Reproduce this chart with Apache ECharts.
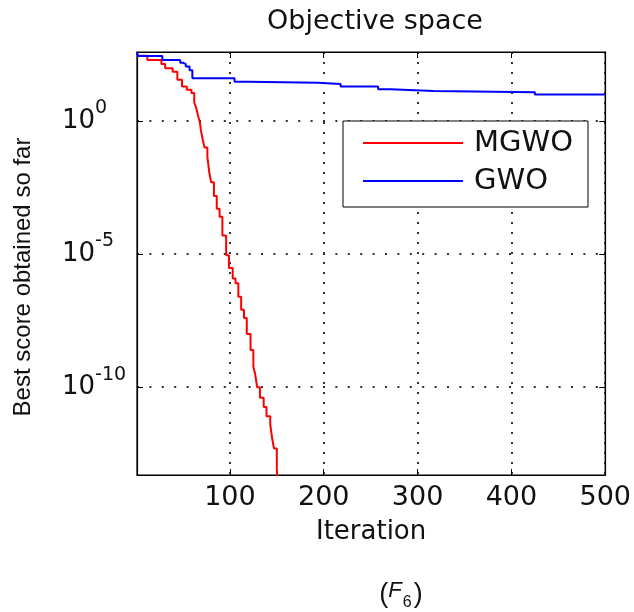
<!DOCTYPE html>
<html>
<head>
<meta charset="utf-8">
<script src="https://cdn.jsdelivr.net/npm/echarts@6/dist/echarts.min.js"></script>
<style>
html,body{margin:0;padding:0;background:#fff;}
#chart{width:634px;height:612px;}
</style>
</head>
<body>
<div id="chart"></div>
<script>
// ---- data ----
const xTickValues = [100, 200, 300, 400, 500];
const yTickValues = [1e-10, 1e-5, 1];

const mgwoIter = [1, 12, 27, 31, 39, 44, 49, 54, 59, 62, 64, 66, 68, 69, 71, 73, 76, 78, 80, 83, 86, 89, 92, 96, 99, 103, 106, 109, 112, 115, 118, 122, 125, 127, 129, 132, 136, 139, 143, 145, 147, 150, 152];
const mgwoVal  = [280, 196, 138, 96, 71, 35, 19.5, 14.7, 11.3, 5, 3.2, 1.6, 0.9, 0.46, 0.2, 0.1, 0.045, 0.012, 0.005, 0.0015, 5e-4, 2.5e-4, 5e-5, 9e-6, 3e-6, 1.2e-6, 8e-7, 2.5e-7, 8e-8, 4e-8, 1e-8, 2.5e-9, 6e-10, 3e-10, 1e-10, 4e-11, 1.8e-11, 8e-12, 4e-12, 1.2e-12, 5e-13, 8e-14, 1e-14];

const gwoIter = [1, 2, 28, 47, 50, 53, 57, 60, 105, 120, 194, 218, 258, 271, 317, 425, 500];
const gwoVal  = [383, 277, 196, 155, 135, 110, 80, 40, 30, 27.5, 24.5, 19.5, 15.5, 13.4, 12, 9.9, 9.9];

const seriesNames = ['MGWO', 'GWO'];
const xMin = 1, xMax = 500;
const yMin = Math.pow(10, -13.3), yMax = Math.pow(10, 2.59);

// ---- build ----
const zip = (a, b) => a.map((v, i) => [v, b[i]]);
const FONT = 'DejaVu Sans';
const tickCfg = { show: true, inside: true, length: 6, lineStyle: { color: '#000', width: 1 } };

const chart = echarts.init(document.getElementById('chart'), null, { renderer: 'canvas' });
chart.setOption({
  animation: false,
  backgroundColor: '#fff',
  title: {
    text: 'Objective space',
    left: 370, top: 3, textAlign: 'center',
    textStyle: { fontFamily: FONT, fontSize: 27, fontWeight: 'normal', color: '#111' }
  },
  grid: { left: 137, top: 52, right: 25, bottom: 137, show: true, borderColor: '#000', borderWidth: 1.2, backgroundColor: '#fff' },
  legend: {
    orient: 'vertical', left: 343, top: 121,
    data: seriesNames,
    itemWidth: 100, itemHeight: 14, itemGap: 8,
    itemStyle: { opacity: 0 },
    padding: [7, 15, 11, 19],
    backgroundColor: '#fff', borderColor: '#000', borderWidth: 1, borderRadius: 0,
    textStyle: { fontFamily: FONT, fontSize: 29, lineHeight: 30, color: '#111', padding: [0, 0, 0, 6] }
  },
  xAxis: [{
    type: 'value', min: xMin, max: xMax, position: 'bottom',
    name: 'Iteration', nameLocation: 'middle', nameGap: 44,
    nameTextStyle: { fontFamily: FONT, fontSize: 26, color: '#111', lineHeight: 26 },
    axisLine: { show: true, onZero: false, lineStyle: { color: '#000', width: 1.2 } },
    axisTick: Object.assign({ customValues: xTickValues }, tickCfg),
    axisLabel: { customValues: xTickValues, fontFamily: FONT, fontSize: 27, lineHeight: 27, color: '#111', margin: 9, showMinLabel: true, showMaxLabel: true },
    splitLine: { show: true, lineStyle: { color: '#333', width: 2, type: [2, 8] } }
  }, {
    type: 'value', min: xMin, max: xMax, position: 'top',
    axisLine: { show: true, onZero: false, lineStyle: { color: '#000', width: 1.2 } },
    axisTick: Object.assign({ customValues: xTickValues }, tickCfg),
    axisLabel: { show: false },
    splitLine: { show: false }
  }],
  yAxis: [{
    type: 'log', min: yMin, max: yMax, position: 'left',
    axisLine: { show: true, onZero: false, lineStyle: { color: '#000', width: 1.2 } },
    axisTick: Object.assign({ customValues: yTickValues }, tickCfg),
    minorTick: { show: false },
    axisLabel: {
      customValues: yTickValues,
      align: 'left', margin: 75,
      formatter: function (v) { return '{b|10}{s|' + Math.round(Math.log10(v)) + '}'; },
      rich: {
        b: { fontFamily: FONT, fontSize: 26, lineHeight: 30, color: '#111', verticalAlign: 'middle' },
        s: { fontFamily: FONT, fontSize: 19, lineHeight: 20, color: '#111', verticalAlign: 'middle', padding: [0, 0, 25, 0] }
      }
    },
    splitLine: { show: true, lineStyle: { color: '#333', width: 2, type: [2, 10.4] } }
  }, {
    type: 'log', min: yMin, max: yMax, position: 'right',
    axisLine: { show: true, onZero: false, lineStyle: { color: '#000', width: 1.2 } },
    axisTick: Object.assign({ customValues: yTickValues }, tickCfg),
    axisLabel: { show: false },
    splitLine: { show: false }
  }],
  series: [{
    name: seriesNames[0], type: 'line', step: 'end', symbol: 'none',
    xAxisIndex: 0, yAxisIndex: 0,
    lineStyle: { color: '#ff0000', width: 2 }, itemStyle: { color: '#ff0000' },
    data: zip(mgwoIter, mgwoVal)
  }, {
    name: seriesNames[1], type: 'line', step: 'end', symbol: 'none',
    xAxisIndex: 0, yAxisIndex: 0,
    lineStyle: { color: '#0000ff', width: 2 }, itemStyle: { color: '#0000ff' },
    data: zip(gwoIter, gwoVal)
  }],
  graphic: [{
    type: 'text', x: 23, y: 277, rotation: Math.PI / 2,
    style: {
      text: 'Best score obtained so far',
      fontFamily: 'Liberation Sans', fontSize: 24, fill: '#111',
      align: 'center', verticalAlign: 'middle'
    }
  }, {
    type: 'text', x: 401, y: 595,
    style: {
      text: '({f|F}{n|6})',
      fontFamily: 'Liberation Sans', fontSize: 27, fill: '#111',
      align: 'center', verticalAlign: 'middle',
      rich: {
        f: { fontFamily: 'Liberation Sans', fontSize: 22, fontStyle: 'italic', fill: '#111', padding: [0, 1, 8, 0] },
        n: { fontFamily: 'Liberation Sans', fontSize: 16, fill: '#111', padding: [16, 2, 0, 0] }
      }
    }
  }]
});
</script>
</body>
</html>
